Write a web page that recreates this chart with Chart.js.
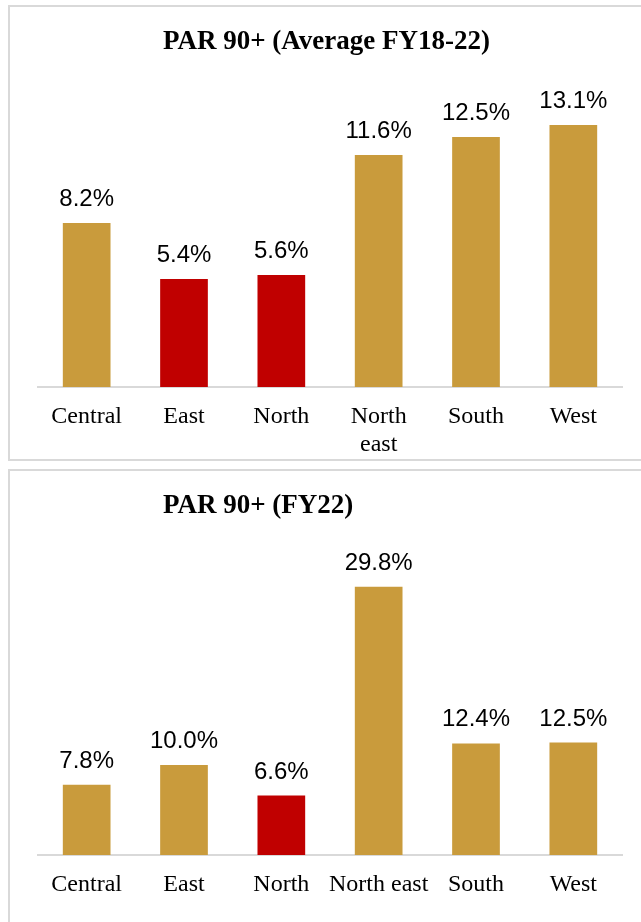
<!DOCTYPE html>
<html>
<head>
<meta charset="utf-8">
<script src="https://cdn.jsdelivr.net/npm/chart.js@4"></script>
<style>
  html, body { margin: 0; padding: 0; background: #fff; overflow: hidden; }
  body { width: 641px; height: 922px; position: relative; }
  .panel { position: absolute; left: 8px; width: 700px; border: 2px solid #d9d9d9; box-sizing: border-box; }
  .title { position: absolute; left: 163px; font: bold 27px "Liberation Serif", "Times New Roman", serif; line-height: 27px; color: #000; white-space: nowrap; z-index: 2; }
  canvas { position: absolute; left: 0; }
</style>
</head>
<body>
<div class="panel" style="top:5px;height:456px;"></div>
<div class="panel" style="top:469px;height:500px;"></div>
<div class="title" style="top:27px;">PAR 90+ (Average FY18-22)</div>
<div class="title" style="top:491px;">PAR 90+ (FY22)</div>
<div style="position:absolute;left:0;top:0;width:641px;height:460px;"><canvas id="avg"></canvas></div>
<div style="position:absolute;left:0;top:469px;width:641px;height:453px;"><canvas id="fy22"></canvas></div>
<script>
var regions = ["Central", "East", "North", "North east", "South", "West"];
var avgValues = [8.2, 5.4, 5.6, 11.6, 12.5, 13.1];
var fy22Values = [7.8, 10.0, 6.6, 29.8, 12.4, 12.5];
var avgHighlight = ["East", "North"];
var fy22Highlight = ["North"];

var gold = "#C99B3C";
var red = "#C00000";

// draws the % value above each bar
var valueLabels = {
    id: "valueLabels",
    afterDatasetsDraw: function(chart) {
        var ctx = chart.ctx;
        var meta = chart.getDatasetMeta(0);
        ctx.save();
        ctx.font = "24px 'Liberation Sans', Arial, sans-serif";
        ctx.fillStyle = "#000";
        ctx.textAlign = "center";
        ctx.textBaseline = "alphabetic";
        meta.data.forEach(function(bar, i) {
            var v = chart.data.datasets[0].data[i];
            ctx.fillText(v.toFixed(1) + "%", bar.x, bar.y - 17);
        });
        ctx.restore();
    }
};

function makeChart(id, labels, values, highlight, yMax, padTop, axisHeight) {
    return new Chart(id, {
        type: "bar",
        data: {
            labels: labels,
            datasets: [{
                data: values,
                backgroundColor: regions.map(function(r) {
                    return highlight.indexOf(r) >= 0 ? red : gold;
                }),
                borderWidth: 0,
                categoryPercentage: 1,
                barPercentage: 0.49
            }]
        },
        options: {
            responsive: true,
            maintainAspectRatio: false,
            animation: false,
            layout: { padding: { left: 38, right: 19, top: padTop, bottom: 0 } },
            scales: {
                y: { display: false, min: 0, max: yMax },
                x: {
                    grid: { display: false, drawTicks: false },
                    border: { display: true, color: "#d9d9d9", width: 2 },
                    ticks: {
                        color: "#000",
                        padding: 16,
                        maxRotation: 0,
                        autoSkip: false,
                        font: { family: "'Liberation Serif', 'Times New Roman', serif", size: 24, lineHeight: 1.15 }
                    },
                    afterFit: function(scale) { scale.height = axisHeight; }
                }
            },
            plugins: {
                legend: { display: false },
                tooltip: { enabled: false }
            }
        },
        plugins: [valueLabels]
    });
}

var avgLabels = regions.map(function(r) { return r === "North east" ? ["North", "east"] : r; });

makeChart("avg", avgLabels, avgValues, avgHighlight, 14, 107, 73);
makeChart("fy22", regions, fy22Values, fy22Highlight, 32, 98, 67);
</script>
</body>
</html>
